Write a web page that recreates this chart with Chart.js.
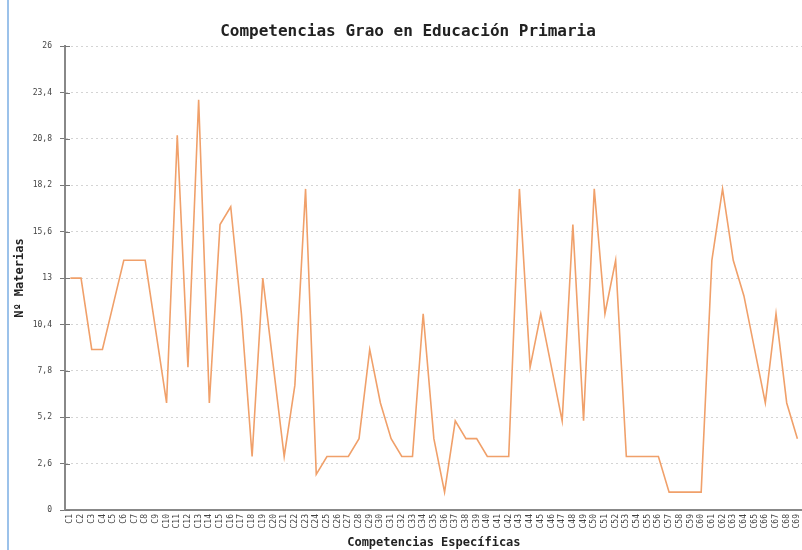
<!DOCTYPE html>
<html lang="es">
<head>
  <meta charset="UTF-8">
  <title>Competencias Grao en Educación Primaria</title>
  <style>
    body { margin: 0; background: #fff; overflow: hidden; }
    #outer { position: relative; width: 802px; height: 550px; overflow: hidden; }
    #wrap { position: relative; width: 808px; height: 550px; }
    #edge { position: absolute; left: 7px; top: 0; width: 2px; height: 550px; background: #9cc2ea; }
  </style>
</head>
<body>
  <div id="outer">
    <div id="wrap">
      <div id="edge"></div>
      <canvas id="myChart"></canvas>
    </div>
  </div>
  <script src="https://cdn.jsdelivr.net/npm/chart.js@4/dist/chart.umd.min.js"></script>
  <script>
    // competencias C1..C69
    const labels = [];
    for (let i = 1; i <= 69; i++) labels.push('C' + i);

    // Nº materias por competencia
    const materias = [
      13, 13, 9, 9, 11.5, 14, 14, 14, 10, 6,
      21, 8, 23, 6, 16, 17, 11, 3, 13, 8,
      3, 7, 18, 2, 3, 3, 3, 4, 9, 6,
      4, 3, 3, 11, 4, 1, 5, 4, 4, 3,
      3, 3, 18, 8, 11, 8, 5, 16, 5, 18,
      11, 14, 3, 3, 3, 3, 1, 1, 1, 1,
      14, 18, 14, 12, 9, 6, 11, 6, 4
    ];

    const yMax = 26;
    const yStep = 2.6;

    const mono = "'DejaVu Sans Mono', monospace";

    // short tick marks on the inner side of the y axis
    const innerTicks = {
      id: 'innerTicks',
      afterDraw(chart) {
        const y = chart.scales.y;
        const c = chart.ctx;
        c.save();
        c.strokeStyle = '#777';
        c.lineWidth = 1;
        y.ticks.forEach(function (t) {
          const py = Math.round(y.getPixelForValue(t.value)) + 0.5;
          c.beginPath();
          c.moveTo(y.right, py);
          c.lineTo(y.right + 5, py);
          c.stroke();
        });
        c.restore();
      }
    };

    const ctx = document.getElementById('myChart').getContext('2d');
    const myChart = new Chart(ctx, {
      type: 'line',
      data: {
        labels: labels,
        datasets: [{
          label: 'Nº Materias',
          data: materias,
          borderColor: '#f0a06a',
          borderWidth: 1.6,
          pointRadius: 0,
          tension: 0,
          fill: false
        }]
      },
      options: {
        responsive: true,
        maintainAspectRatio: false,
        animation: false,
        layout: { padding: { left: 8, right: 0, top: 0, bottom: 0 } },
        plugins: {
          legend: { display: false },
          tooltip: { enabled: false },
          title: {
            display: true,
            text: 'Competencias Grao en Educación Primaria',
            color: '#222',
            font: { family: mono, size: 16, weight: 'bold' },
            padding: { top: 22, bottom: 5 }
          }
        },
        scales: {
          x: {
            offset: true,
            afterFit: function (scale) { scale.height = 40; },
            grid: { display: false, drawTicks: true, tickLength: 3, tickColor: '#888' },
            border: { display: true, color: '#888', width: 2 },
            ticks: {
              autoSkip: false,
              maxRotation: 90,
              minRotation: 90,
              padding: 1,
              color: '#444',
              font: { family: mono, size: 8 }
            },
            title: {
              display: true,
              text: 'Competencias Específicas',
              color: '#222',
              font: { family: mono, size: 12, weight: 'bold' },
              padding: { top: 0, bottom: 0 }
            }
          },
          y: {
            min: 0,
            max: yMax,
            afterFit: function (scale) { scale.width = 57; },
            afterBuildTicks: function (scale) {
              const t = [];
              for (let k = 0; k <= 10; k++) t.push({ value: Math.round(k * yStep * 10) / 10 });
              scale.ticks = t;
            },
            grid: {
              color: '#d4d4d4',
              lineWidth: 1,
              tickLength: 5,
              tickColor: '#777',
              tickBorderDash: []
            },
            border: { display: true, color: '#888', width: 2, dash: [2, 3] },
            ticks: {
              padding: 8,
              color: '#444',
              font: { family: mono, size: 8 },
              callback: function (v) { return String(Math.round(v * 10) / 10).replace('.', ','); }
            },
            title: {
              display: true,
              text: 'Nº Materias',
              color: '#222',
              font: { family: mono, size: 12, weight: 'bold' },
              padding: { top: 5, bottom: 0 }
            }
          }
        }
      },
      plugins: [innerTicks]
    });
  </script>
</body>
</html>
